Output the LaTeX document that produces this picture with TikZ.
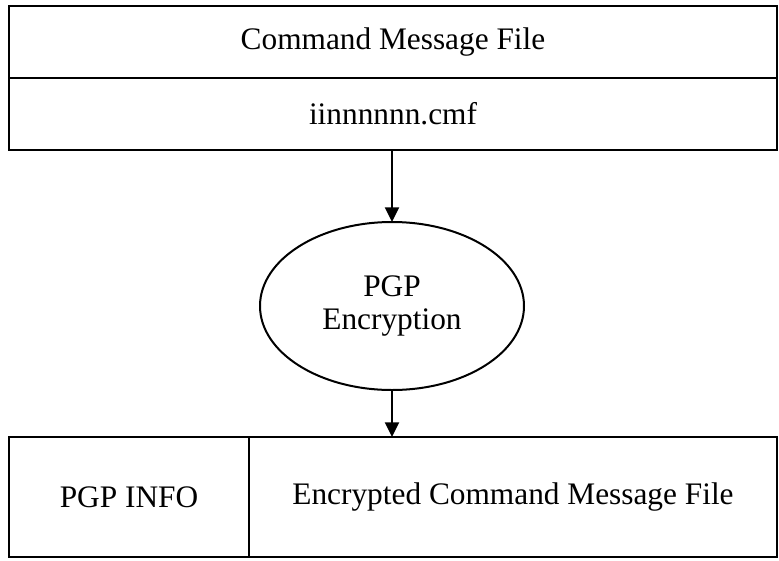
\documentclass[tikz,border=0pt]{standalone}
\usepackage{fontspec}
\setmainfont{Liberation Serif}
\usetikzlibrary{positioning,shapes.geometric,arrows.meta}
\begin{document}
\begin{tikzpicture}[x=0.75pt, y=-0.75pt, line width=1.5pt,
  every node/.style = {draw, align=center, outer sep=0pt,
    font=\fontsize{23.5}{24.5}\selectfont},
  box/.style = {shape=rectangle, minimum height=54pt},
  encstep/.style = {shape=ellipse, inner sep=0pt,
    minimum width=198pt, minimum height=126pt},
  flow/.style = {-{Triangle[length=11pt,width=10.5pt]}}]
  \useasboundingbox (0,0) rectangle (779,561);
  \node[box, minimum width=576pt] (cmf) at (393,42) {Command Message File};
  \node[box, minimum width=576pt, below=0pt of cmf] (cmfname) {iinnnnnn.cmf};
  \node[encstep] (enc) at (392,306) {PGP\\Encryption};
  \node[box, minimum width=180pt, minimum height=90pt] (info) at (129,497) {PGP INFO};
  \node[box, minimum width=396pt, minimum height=90pt, right=0pt of info] (encfile)
    {Encrypted Command Message File};
  \draw[flow] (enc.north |- cmfname.south) -- (enc.north);
  \draw[flow] (enc.south) -- (enc.south |- encfile.north);
\end{tikzpicture}
\end{document}
